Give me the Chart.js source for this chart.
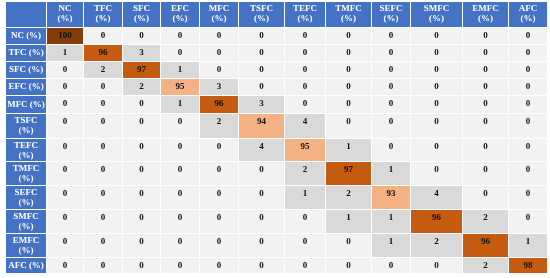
<!DOCTYPE html>
<html><head><meta charset="utf-8">
<style>html,body{margin:0;padding:0;background:#fff}</style>
<script src="https://cdn.jsdelivr.net/npm/chart.js@4/dist/chart.umd.min.js"></script>
</head><body>
<canvas id="c" width="550" height="278"></canvas>
<script>
// ---------- DATA ----------
const colLabels = [['NC','(%)'],['TFC','(%)'],['SFC','(%)'],['EFC','(%)'],['MFC','(%)'],['TSFC','(%)'],['TEFC','(%)'],['TMFC','(%)'],['SEFC','(%)'],['SMFC','(%)'],['EMFC','(%)'],['AFC','(%)']];
const rowLabels = [['NC (%)'],['TFC (%)'],['SFC (%)'],['EFC (%)'],['MFC (%)'],['TSFC','(%)'],['TEFC','(%)'],['TMFC','(%)'],['SEFC','(%)'],['SMFC','(%)'],['EMFC','(%)'],['AFC (%)']];
const rowNC   = [100,0,0,0,0,0,0,0,0,0,0,0];
const rowTFC  = [1,96,3,0,0,0,0,0,0,0,0,0];
const rowSFC  = [0,2,97,1,0,0,0,0,0,0,0,0];
const rowEFC  = [0,0,2,95,3,0,0,0,0,0,0,0];
const rowMFC  = [0,0,0,1,96,3,0,0,0,0,0,0];
const rowTSFC = [0,0,0,0,2,94,4,0,0,0,0,0];
const rowTEFC = [0,0,0,0,0,4,95,1,0,0,0,0];
const rowTMFC = [0,0,0,0,0,0,2,97,1,0,0,0];
const rowSEFC = [0,0,0,0,0,0,1,2,93,4,0,0];
const rowSMFC = [0,0,0,0,0,0,0,1,1,96,2,0];
const rowEMFC = [0,0,0,0,0,0,0,0,1,2,96,1];
const rowAFC  = [0,0,0,0,0,0,0,0,0,0,2,98];
const matrix = [rowNC,rowTFC,rowSFC,rowEFC,rowMFC,rowTSFC,rowTEFC,rowTMFC,rowSEFC,rowSMFC,rowEMFC,rowAFC];

// ---------- LAYOUT / STYLE ----------
const tableLeft = 4.5, tableTop = 0.5;
const headColW = 41.5;
const colWidths = [36.5,39,38.5,38.5,39,46.5,41,46,39,51.5,46,39];
const headRowH = 26.5;
const rowHeights = [17,17,17,17.5,17.5,24.5,23.5,23.5,24.5,23.5,24,16];
const headerBg = '#4472C4';
const cellBg = '#F2F2F2';
function cellColor(v){
  if (v >= 99) return '#843C0C';
  if (v >= 96) return '#C55A11';
  if (v >= 90) return '#F4B183';
  if (v > 0) return '#D9D9D9';
  return cellBg;
}
const fontFamily = '"Liberation Serif", "Times New Roman", serif';

const tablePlugin = {
  id: 'table',
  afterDatasetsDraw(chart) {
    const {ctx, scales: {x, y}} = chart;
    const xEdges = [tableLeft, tableLeft + headColW];
    colWidths.forEach(w => xEdges.push(xEdges[xEdges.length - 1] + w));
    const yEdges = [tableTop, tableTop + headRowH];
    rowHeights.forEach(h => yEdges.push(yEdges[yEdges.length - 1] + h));
    const px = v => Math.round(x.getPixelForValue(v));
    const py = v => Math.round(y.getPixelForValue(v));
    function cell(c, r, fill, lines, color, topAligned) {
      const x0 = px(xEdges[c]), x1 = px(xEdges[c + 1]);
      const y0 = py(yEdges[r]), y1 = py(yEdges[r + 1]);
      ctx.fillStyle = fill;
      ctx.fillRect(x0 + 1, y0 + 1, x1 - x0 - 1, y1 - y0 - 1);
      ctx.fillStyle = color;
      ctx.textAlign = 'center';
      ctx.textBaseline = 'middle';
      const cx = (x0 + x1) / 2 + 0.5;
      const lh = 10.5;
      let start;
      if (lines.length === 1) start = topAligned ? y0 + 8.5 : (y0 + y1) / 2 + 0.5;
      else start = y0 + 7.5;
      lines.forEach((t, i) => ctx.fillText(t, cx, start + i * lh));
    }
    ctx.save();
    ctx.font = 'bold 9px ' + fontFamily;
    // header corner
    cell(0, 0, headerBg, [], '#fff');
    colLabels.forEach((l, i) => cell(i + 1, 0, headerBg, l, '#fff'));
    rowLabels.forEach((l, j) => cell(0, j + 1, headerBg, l, '#fff'));
    matrix.forEach((row, j) => row.forEach((v, i) => {
      const bg = cellColor(v);
      cell(i + 1, j + 1, bg, [String(v)], '#111', true);
    }));
    ctx.restore();
  }
};

new Chart(document.getElementById('c'), {
  type: 'scatter',
  data: { datasets: [{ data: matrix.flatMap((row, j) => row.map((v, i) => ({x: i, y: j, v}))), pointRadius: 0, hidden: false, showLine: false }] },
  options: {
    responsive: false,
    animation: false,
    layout: { padding: 0 },
    plugins: { legend: { display: false }, tooltip: { enabled: false } },
    scales: {
      x: { type: 'linear', min: 0, max: 550, display: false },
      y: { type: 'linear', min: 0, max: 278, reverse: true, display: false }
    },
    elements: { point: { radius: 0 } }
  },
  plugins: [tablePlugin]
});
</script>
</body></html>
